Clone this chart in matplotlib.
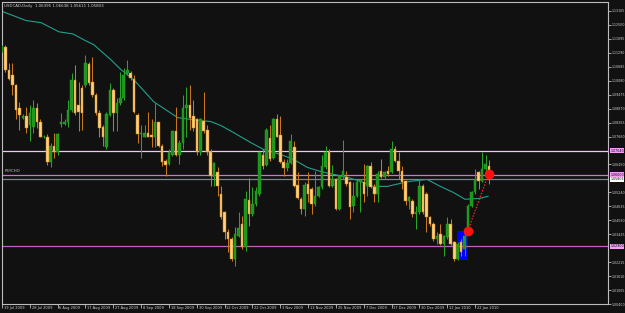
import numpy as np
import matplotlib
matplotlib.use("Agg")
import matplotlib.pyplot as plt
import matplotlib.transforms as mtransforms
from matplotlib.patches import Rectangle
from matplotlib import font_manager

title = "USDCAD,Daily  1.06395 1.06638 1.05611 1.05803"

opens = [
    1.1142, 1.1155, 1.1056, 1.1034, 1.0991, 1.0891, 1.0848, 1.0853, 1.0818, 1.0809,
    1.0891, 1.0831, 1.0762, 1.0762, 1.0654, 1.0723, 1.0701, 1.0822, 1.0822, 1.0827,
    1.0883, 1.1012, 1.0904, 1.0978, 1.0991, 1.1082, 1.1004, 1.0948, 1.0870, 1.0809,
    1.0719, 1.0861, 1.0969, 1.0870, 1.0913, 1.0935, 1.1043, 1.1043, 1.1017, 1.0861,
    1.0779, 1.0766, 1.0783, 1.0771, 1.0766, 1.0827, 1.0723, 1.0658, 1.0645, 1.0688,
    1.0788, 1.0688, 1.0740, 1.0891, 1.0904, 1.0857, 1.0840, 1.0697, 1.0835, 1.0796,
    1.0697, 1.0589, 1.0611, 1.0516, 1.0438, 1.0351, 1.0321, 1.0235, 1.0334, 1.0386,
    1.0287, 1.0490, 1.0429, 1.0472, 1.0516, 1.0688, 1.0641, 1.0758, 1.0671, 1.0840,
    1.0771, 1.0654, 1.0628, 1.0650, 1.0719, 1.0555, 1.0494, 1.0451, 1.0559, 1.0537,
    1.0472, 1.0507, 1.0546, 1.0632, 1.0701, 1.0550, 1.0580, 1.0451, 1.0589, 1.0589,
    1.0567, 1.0464, 1.0507, 1.0567, 1.0567, 1.0550, 1.0637, 1.0546, 1.0516, 1.0615,
    1.0589, 1.0615, 1.0611, 1.0710, 1.0658, 1.0615, 1.0572, 1.0485, 1.0485, 1.0429,
    1.0438, 1.0550, 1.0516, 1.0416, 1.0386, 1.0321, 1.0343, 1.0300, 1.0330, 1.0386,
    1.0308, 1.0235, 1.0308, 1.0278, 1.0351, 1.0464, 1.0524, 1.0611, 1.0572, 1.0624, 1.06395,
]
highs = [
    1.1164, 1.1164, 1.1086, 1.1086, 1.0995, 1.0917, 1.0865, 1.0896, 1.0904, 1.0926,
    1.0913, 1.0840, 1.0771, 1.0775, 1.0740, 1.0783, 1.0783, 1.0870, 1.0840, 1.0926,
    1.1043, 1.1077, 1.1004, 1.0991, 1.1120, 1.1090, 1.1112, 1.0956, 1.0883, 1.0818,
    1.0874, 1.0999, 1.0978, 1.0935, 1.1047, 1.1064, 1.1099, 1.1051, 1.1034, 1.0870,
    1.0818, 1.0818, 1.0874, 1.0840, 1.0913, 1.0831, 1.0732, 1.0667, 1.0710, 1.0792,
    1.0896, 1.0753, 1.0948, 1.0982, 1.0991, 1.0926, 1.0848, 1.0848, 1.0961, 1.0818,
    1.0710, 1.0654, 1.0632, 1.0550, 1.0442, 1.0364, 1.0330, 1.0373, 1.0438, 1.0421,
    1.0529, 1.0585, 1.0546, 1.0546, 1.0701, 1.0710, 1.0805, 1.0818, 1.0848, 1.0865,
    1.0853, 1.0667, 1.0667, 1.0775, 1.0745, 1.0611, 1.0503, 1.0567, 1.0611, 1.0546,
    1.0615, 1.0550, 1.0688, 1.0723, 1.0710, 1.0641, 1.0585, 1.0598, 1.0753, 1.0615,
    1.0572, 1.0567, 1.0580, 1.0580, 1.0645, 1.0641, 1.0654, 1.0559, 1.0615, 1.0667,
    1.0615, 1.0637, 1.0745, 1.0723, 1.0697, 1.0637, 1.0576, 1.0507, 1.0494, 1.0464,
    1.0580, 1.0559, 1.0524, 1.0421, 1.0395, 1.0351, 1.0386, 1.0338, 1.0416, 1.0408,
    1.0313, 1.0308, 1.0321, 1.0364, 1.0472, 1.0529, 1.0624, 1.0615, 1.0697, 1.0688, 1.06638,
]
lows = [
    1.1133, 1.1047, 1.1012, 1.0948, 1.0840, 1.0796, 1.0840, 1.0783, 1.0745, 1.0783,
    1.0805, 1.0762, 1.0758, 1.0641, 1.0632, 1.0675, 1.0688, 1.0809, 1.0814, 1.0809,
    1.0874, 1.0861, 1.0788, 1.0796, 1.0982, 1.0991, 1.0939, 1.0861, 1.0762, 1.0723,
    1.0710, 1.0853, 1.0788, 1.0788, 1.0904, 1.0926, 1.1034, 1.1012, 1.0870, 1.0740,
    1.0675, 1.0762, 1.0762, 1.0719, 1.0719, 1.0719, 1.0637, 1.0593, 1.0641, 1.0680,
    1.0680, 1.0645, 1.0710, 1.0766, 1.0796, 1.0788, 1.0688, 1.0688, 1.0783, 1.0688,
    1.0550, 1.0550, 1.0507, 1.0408, 1.0321, 1.0265, 1.0226, 1.0205, 1.0330, 1.0278,
    1.0269, 1.0377, 1.0421, 1.0464, 1.0507, 1.0624, 1.0637, 1.0662, 1.0667, 1.0762,
    1.0650, 1.0593, 1.0615, 1.0645, 1.0546, 1.0494, 1.0429, 1.0421, 1.0481, 1.0429,
    1.0464, 1.0503, 1.0537, 1.0624, 1.0546, 1.0546, 1.0446, 1.0446, 1.0580, 1.0550,
    1.0408, 1.0438, 1.0503, 1.0438, 1.0481, 1.0507, 1.0542, 1.0481, 1.0481, 1.0585,
    1.0580, 1.0593, 1.0606, 1.0654, 1.0580, 1.0537, 1.0468, 1.0451, 1.0416, 1.0364,
    1.0429, 1.0429, 1.0351, 1.0377, 1.0313, 1.0300, 1.0295, 1.0248, 1.0321, 1.0295,
    1.0226, 1.0230, 1.0248, 1.0248, 1.0343, 1.0459, 1.0516, 1.0537, 1.0567, 1.0611, 1.05611,
]
closes = [
    1.1155, 1.1056, 1.1017, 1.0991, 1.0883, 1.0861, 1.0857, 1.0805, 1.0870, 1.0891,
    1.0827, 1.0766, 1.0766, 1.0654, 1.0723, 1.0697, 1.0775, 1.0831, 1.0831, 1.0883,
    1.1012, 1.0870, 1.0874, 1.0870, 1.1086, 1.0999, 1.0948, 1.0870, 1.0805, 1.0762,
    1.0865, 1.0969, 1.0870, 1.0913, 1.0935, 1.1034, 1.1056, 1.1021, 1.0874, 1.0775,
    1.0783, 1.0783, 1.0766, 1.0762, 1.0827, 1.0723, 1.0654, 1.0641, 1.0701, 1.0788,
    1.0688, 1.0740, 1.0891, 1.0904, 1.0848, 1.0805, 1.0697, 1.0840, 1.0788, 1.0697,
    1.0593, 1.0650, 1.0550, 1.0416, 1.0351, 1.0321, 1.0235, 1.0343, 1.0369, 1.0287,
    1.0494, 1.0429, 1.0472, 1.0529, 1.0697, 1.0637, 1.0796, 1.0667, 1.0844, 1.0766,
    1.0654, 1.0628, 1.0650, 1.0745, 1.0550, 1.0498, 1.0451, 1.0555, 1.0516, 1.0472,
    1.0507, 1.0546, 1.0637, 1.0701, 1.0550, 1.0580, 1.0451, 1.0593, 1.0615, 1.0559,
    1.0459, 1.0507, 1.0567, 1.0576, 1.0516, 1.0637, 1.0546, 1.0516, 1.0602, 1.0589,
    1.0611, 1.0602, 1.0710, 1.0658, 1.0615, 1.0567, 1.0485, 1.0503, 1.0429, 1.0438,
    1.0550, 1.0438, 1.0416, 1.0386, 1.0321, 1.0334, 1.0300, 1.0334, 1.0386, 1.0300,
    1.0235, 1.0300, 1.0265, 1.0334, 1.0464, 1.0524, 1.0580, 1.0572, 1.0624, 1.0645, 1.05803,
]

# moving average (read at selected bars)
ma_idx = [-0.2, 6.9, 11.2, 16.4, 20.4, 23.6, 26.4, 31.3, 34.2, 37.9, 43.6, 50.5, 54.3,
          60.0, 62.9, 66.6, 71.5, 75.2, 80.1, 83.8, 87.8, 91.5, 95.3, 99.3, 103.0,
          106.7, 110.8, 114.5, 117.4, 122.2, 126.0, 129.7, 133.1, 137.4, 139.7]
ma_val = [1.1310, 1.1269, 1.1260, 1.1220, 1.1211, 1.1185, 1.1164, 1.1099, 1.1056, 1.1012,
          1.0917, 1.0848, 1.0840, 1.0831, 1.0814, 1.0783, 1.0740, 1.0710, 1.0688, 1.0667,
          1.0632, 1.0615, 1.0602, 1.0589, 1.0572, 1.0550, 1.0550, 1.0563, 1.0572, 1.0580,
          1.0550, 1.0524, 1.0494, 1.0498, 1.0507]

# horizontal lines (price, line colour, label box colour)
hlines_price = [1.0704, 1.0600, 1.05803, 1.0290]
hlines_color = ["#f0c8f0", "#c878c8", "#7a8590", "#c060c0"]
hlines_box = ["#f2a0f2", "#f2a0f2", "#ffffff", "#f2a0f2"]
psycho_label = "PSYCHO"

# objects
rect_x = [130.7, 133.9]
rect_p = [1.0231, 1.0357]
trend_x = [133.9, 139.9]
trend_p = [1.0357, 1.0605]

# axis labels
ytick_labels = ["1.00400", "1.01005", "1.01610", "1.02215", "1.03425", "1.04030",
                "1.04635", "1.05240", "1.06450", "1.07660", "1.08265", "1.08870",
                "1.09475", "1.10080", "1.10685", "1.11290", "1.11895", "1.12500", "1.13105"]
xtick_pos = [0, 8, 16, 24, 32, 40, 48, 56, 64, 72, 80, 88, 96, 104, 112, 120, 128, 136]
xtick_labels = ["19 Jul 2009", "28 Jul 2009", "6 Aug 2009", "17 Aug 2009", "27 Aug 2009",
                "8 Sep 2009", "18 Sep 2009", "30 Sep 2009", "12 Oct 2009", "22 Oct 2009",
                "3 Nov 2009", "13 Nov 2009", "25 Nov 2009", "7 Dec 2009", "17 Dec 2009",
                "30 Dec 2009", "12 Jan 2010", "22 Jan 2010"]

# pick a narrow font when one is installed
try:
    font_manager.findfont("Liberation Sans Narrow", fallback_to_default=False)
    SMALL = "Liberation Sans Narrow"
    k = 1.0
except Exception:
    SMALL = "DejaVu Sans"
    k = 0.78

BG = "#111111"
FRAME = "#bdbdbd"
TXT = "#d0d0d0"
BULL = "#2aa52a"
BULL_BODY = "#1e961e"
BEAR_WICK = "#c8781a"
BEAR_BODY = "#ffd27a"

W, H = 625, 313
fig = plt.figure(figsize=(W / 100, H / 100), dpi=100, facecolor=BG)
ax = fig.add_axes([2 / W, 1 - 304 / H, 606 / W, 302 / H], facecolor=BG)
ax.set_xlim(0.35, 174.2)
ax.set_ylim(1.00447, 1.13494)

o = np.array(opens); h = np.array(highs); l = np.array(lows); c = np.array(closes)
x = np.arange(len(o))
up = c >= o

ax.add_patch(Rectangle((rect_x[0], rect_p[0]), rect_x[1] - rect_x[0], rect_p[1] - rect_p[0],
                       facecolor="#0000ff", edgecolor="none", zorder=1))

for p, col in zip(hlines_price, hlines_color):
    ax.axhline(p, color=col, lw=0.9, zorder=1.5)

ax.plot(ma_idx, ma_val, color="#21a08c", lw=0.8, zorder=2)

ax.vlines(x[up], l[up], h[up], color=BULL, lw=0.75, zorder=3)
ax.vlines(x[~up], l[~up], h[~up], color=BEAR_WICK, lw=0.75, zorder=3)
bottom = np.minimum(o, c)
height = np.maximum(np.abs(c - o), 0.00025)
ax.bar(x[up], height[up], bottom=bottom[up], width=0.74, color=BULL_BODY,
       edgecolor=BULL, linewidth=0.3, zorder=4)
ax.bar(x[~up], height[~up], bottom=bottom[~up], width=0.74, color=BEAR_BODY,
       edgecolor=BEAR_WICK, linewidth=0.35, zorder=4)

ax.plot(trend_x, trend_p, color="#ff2020", lw=0.9, ls=(0, (1.2, 1.2)), zorder=5)
ax.plot(trend_x, trend_p, "o", color="#ff1010", ms=6, mec="#ff1010", zorder=6)

ax.text(0.8, 1.0606, psycho_label, fontsize=3.6 * k, family=SMALL, color="#c8c8c8",
        va="bottom", ha="left", zorder=6)

for s in ax.spines.values():
    s.set_color(FRAME)
    s.set_linewidth(0.8)

ax.yaxis.tick_right()
yt = [float(t) for t in ytick_labels]
ax.set_yticks(yt)
ax.set_yticklabels(ytick_labels, family=SMALL)
ax.tick_params(axis="y", colors=FRAME, labelcolor=TXT, labelsize=3.0 * k, length=2,
               width=0.6, pad=0.6)

ax.set_xticks(xtick_pos)
ax.set_xticklabels([""] * len(xtick_pos))
ax.tick_params(axis="x", colors=FRAME, length=3, width=0.6)
trans = mtransforms.blended_transform_factory(ax.transData, ax.transAxes)
for pos, lab in zip(xtick_pos, xtick_labels):
    ax.text(pos + 0.5, -0.006, lab, transform=trans, fontsize=3.4 * k, family=SMALL,
            color=TXT, ha="left", va="top", clip_on=False)

ytrans = mtransforms.blended_transform_factory(ax.transAxes, ax.transData)
for p, box in zip(hlines_price, hlines_box):
    ax.text(1.004, p, f"{p:.5f}", transform=ytrans, fontsize=3.0 * k, family=SMALL,
            color="#000000", ha="left", va="center", clip_on=False,
            bbox=dict(boxstyle="square,pad=0.12", facecolor=box, edgecolor="none"))

fig.text(4 / W, 1 - 6 / H, title, fontsize=3.7 * k, family=SMALL, color=TXT,
         ha="left", va="center")

fig.savefig("out.png", dpi=100, facecolor=BG)
